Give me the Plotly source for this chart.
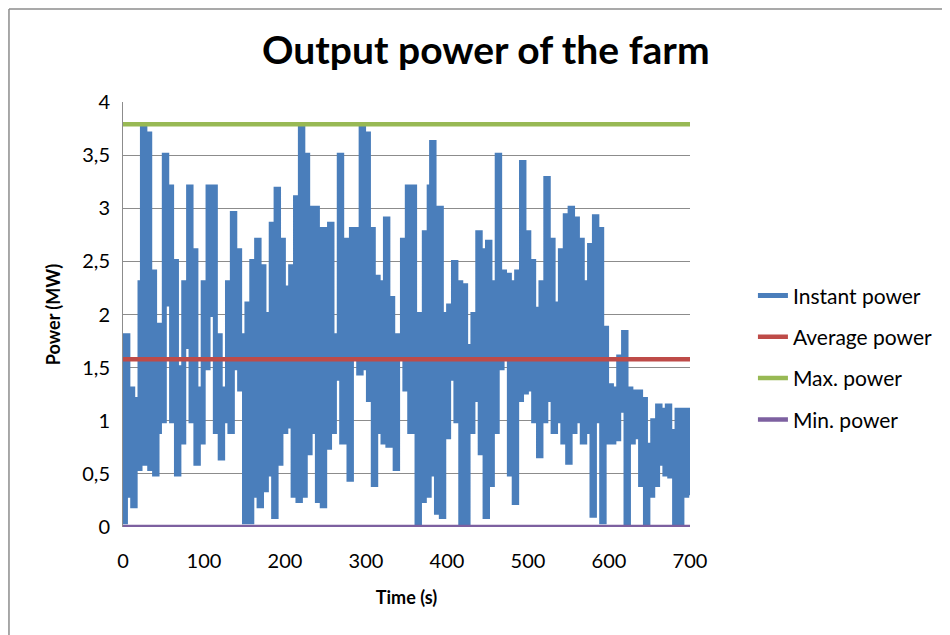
import plotly.graph_objects as go

# Instant power (MW), sampled every 3 s from t = 0 s
instant_power = [
    0.05, 1.8, 0.3, 1.3, 0.2, 1.2, 0.55, 2.3, 3.75, 0.6,
    3.7, 0.55, 2.4, 0.5, 0.9, 1.9, 1.0, 3.5, 2.1, 3.2,
    1.0, 2.5, 0.5, 1.5, 0.8, 2.3, 1.7, 3.2, 1.0, 2.6,
    0.6, 1.3, 0.8, 2.3, 1.5, 3.2, 2.0, 3.2, 0.9, 1.8,
    0.65, 1.3, 1.0, 2.3, 0.9, 2.95, 1.5, 2.6, 1.3, 1.8,
    0.05, 2.1, 0.05, 2.5, 0.3, 2.7, 0.2, 2.45, 0.35, 2.0,
    0.5, 2.85, 0.1, 3.18, 0.6, 2.7, 0.9, 2.25, 0.95, 2.45,
    0.3, 3.1, 0.25, 3.78, 0.3, 3.5, 0.7, 3.0, 0.9, 3.0,
    0.25, 2.8, 0.2, 2.8, 0.75, 2.85, 0.9, 1.8, 1.4, 3.5,
    0.8, 2.7, 2.5, 0.45, 2.8, 1.6, 2.8, 1.45, 3.75, 1.5,
    3.7, 1.2, 2.8, 0.4, 2.35, 0.9, 2.3, 0.8, 2.9, 0.77,
    2.15, 1.0, 0.55, 1.8, 1.6, 2.7, 1.3, 3.2, 0.9, 3.2,
    2.0, 0.0, 2.0, 0.25, 2.77, 0.3, 3.2, 3.62, 0.5, 0.14,
    3.0, 0.1, 2.0, 0.85, 2.08, 1.4, 2.49, 1.0, 2.3, 0.0,
    2.27, 0.0, 1.7, 0.9, 2.0, 1.2, 2.77, 0.7, 2.6, 0.1,
    2.68, 0.4, 2.3, 0.9, 3.5, 1.5, 2.4, 1.6, 2.37, 0.5,
    2.3, 0.23, 2.4, 1.2, 3.43, 1.27, 2.77, 1.3, 2.5, 1.0,
    2.05, 0.67, 2.3, 1.0, 3.28, 1.2, 2.7, 0.9, 2.1, 1.0,
    2.6, 0.8, 2.93, 0.61, 3.0, 0.9, 2.9, 1.0, 2.7, 0.8,
    2.3, 0.9, 2.65, 0.11, 2.92, 1.0, 2.8, 0.05, 1.87, 0.8,
    1.33, 0.8, 1.3, 0.83, 1.6, 1.1, 1.83, 0.0, 1.3, 0.8,
    1.27, 0.85, 1.27, 0.4, 1.2, 0.0, 0.77, 0.3, 1.0, 0.4,
    1.14, 0.6, 1.1, 0.5, 1.14, 0.48, 0.9, 0.0, 1.1, 0.0,
    1.1, 0.3, 1.1, 0.3,
]
time_s = list(range(0, 3 * len(instant_power), 3))

average_power = 1.58
max_power = 3.79
min_power = 0.0
x_span = [0, 700]

series_names = ["Instant power", "Average power", "Max. power", "Min. power"]
colors = ["#4a7ebb", "#be4b48", "#98b954", "#7d60a0"]

FONT = "Lato"

fig = go.Figure()
fig.add_trace(go.Scatter(x=time_s, y=instant_power, mode="lines", name=series_names[0],
                         legendgroup="a", line=dict(color=colors[0], width=5, shape="hv")))
fig.add_trace(go.Scatter(x=x_span, y=[average_power] * 2, mode="lines", name=series_names[1],
                         legendgroup="b", line=dict(color=colors[1], width=4.5)))
fig.add_trace(go.Scatter(x=x_span, y=[max_power] * 2, mode="lines", name=series_names[2],
                         legendgroup="c", line=dict(color=colors[2], width=4.5)))
fig.add_trace(go.Scatter(x=x_span, y=[min_power] * 2, mode="lines", name=series_names[3],
                         legendgroup="d", line=dict(color=colors[3], width=4.5)))

L, T = 115, 94
fig.update_layout(
    width=950, height=635,
    margin=dict(l=L, r=950 - L - 567, t=T, b=635 - T - 425),
    paper_bgcolor="white", plot_bgcolor="white",
    separators=", ",
    font=dict(family=FONT, size=20, color="#000000"),
    title=dict(text="<b>Output power of the farm</b>", x=0.503, xanchor="center",
               y=0.934, yanchor="middle", font=dict(family=FONT, size=39, color="#000")),
    showlegend=True,
    legend=dict(x=1.111, y=0.398, xanchor="left", yanchor="middle",
                traceorder="grouped", tracegroupgap=11,
                font=dict(family=FONT, size=21, color="#000"),
                bgcolor="rgba(0,0,0,0)"),
    xaxis=dict(range=[0, 700], dtick=100, tick0=0, showgrid=False, zeroline=False,
               showline=False, ticks="", tickfont=dict(size=20), ticklabelstandoff=20,
               title=dict(text="<b>Time (s)</b>", font=dict(size=18), standoff=20)),
    yaxis=dict(range=[0, 4], dtick=0.5, tick0=0, showgrid=True, gridcolor="#8c8c8c",
               gridwidth=1, zeroline=False, showline=True, linecolor="#8c8c8c",
               linewidth=1, ticks="", tickfont=dict(size=20), ticklabelstandoff=8,
               title=dict(text="<b>Power (MW)</b>", font=dict(size=18), standoff=16)),
    shapes=[
        dict(type="line", xref="paper", yref="paper", x0=-0.2011, x1=-0.2011,
             y0=-0.27, y1=1.2188, line=dict(color="#8c8c8c", width=1.5), layer="below"),
        dict(type="line", xref="paper", yref="paper", x0=-0.2011, x1=1.48,
             y0=1.2188, y1=1.2188, line=dict(color="#8c8c8c", width=1.5), layer="below"),
    ],
)

fig.write_html("out.html")
